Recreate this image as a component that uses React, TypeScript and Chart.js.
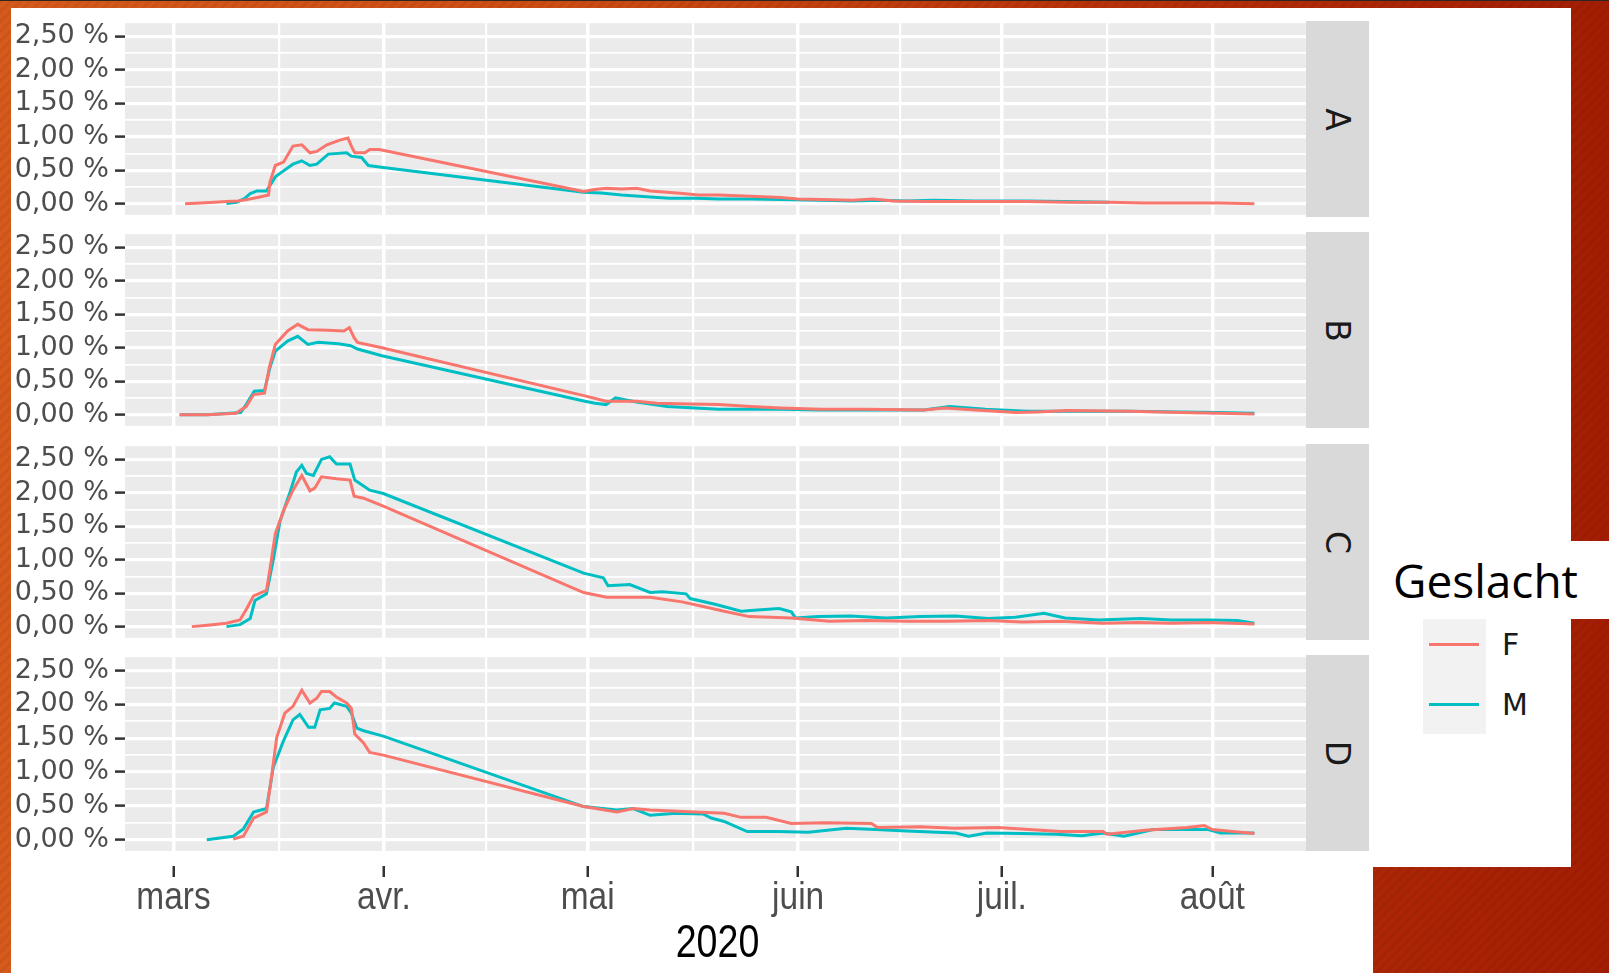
import React, { useEffect, useRef } from "react";
import { Chart, registerables } from "chart.js";

Chart.register(...registerables);

// ---------------- data ----------------
const facetLabels = ["A", "B", "C", "D"];
const seriesNames = ["F", "M"];
const seriesColors = ["#F8766D", "#00BFC4"];
// x values are days counted from 1 March 2020
const xMajorDays = [0, 31, 61, 92, 122, 153];
const xMajorLabels = ["mars", "avr.", "mai", "juin", "juil.", "août"];
const xMinorDays = [15.5, 46, 76.5, 107, 137.5];
const yMajorValues = [0, 0.5, 1, 1.5, 2, 2.5];
const yMinorValues = [0.25, 0.75, 1.25, 1.75, 2.25];
const xAxisTitle = "2020";
const legendTitle = "Geslacht";

const daysA_F = [1.7, 4, 6, 7.8, 9.5, 10.8, 12.7, 14, 14.2, 15, 16.2, 17.6, 18.9, 20.1, 21.1, 22.6, 24.5, 25.7, 26.2, 26.7, 28.2, 28.9, 30.3, 60.4, 62, 63.8, 66, 68.2, 70.2, 72.7, 75, 77.3, 80.3, 85, 89.4, 92, 95.4, 100, 103, 106, 110.5, 118, 125.7, 132, 137.8, 143, 148.3, 154, 159.2];
const valsA_F = [0, 0.01, 0.02, 0.03, 0.04, 0.06, 0.1, 0.13, 0.32, 0.57, 0.62, 0.86, 0.88, 0.76, 0.78, 0.88, 0.95, 0.98, 0.86, 0.76, 0.76, 0.81, 0.81, 0.18, 0.21, 0.23, 0.22, 0.23, 0.19, 0.17, 0.15, 0.13, 0.13, 0.11, 0.09, 0.07, 0.06, 0.05, 0.07, 0.04, 0.03, 0.03, 0.03, 0.02, 0.02, 0.01, 0.01, 0.01, 0];
const daysA_M = [7.8, 9.3, 10.5, 11.3, 12.3, 13.7, 15, 16.2, 17.6, 18.9, 20.1, 21.1, 22.8, 25.5, 26.2, 27.7, 28.7, 30.9, 60.4, 63, 66, 70.2, 73, 77, 80.3, 85, 89.4, 95.4, 100, 104, 108, 112, 118, 125.7, 131, 137.8];
const valsA_M = [0, 0.02, 0.08, 0.15, 0.19, 0.19, 0.4, 0.49, 0.59, 0.64, 0.57, 0.59, 0.74, 0.76, 0.71, 0.69, 0.57, 0.54, 0.17, 0.16, 0.13, 0.1, 0.08, 0.08, 0.07, 0.07, 0.06, 0.05, 0.04, 0.05, 0.04, 0.05, 0.04, 0.04, 0.03, 0.02];

const daysB_F = [0.9, 5, 9.2, 10.7, 11.8, 13.4, 14.1, 15, 16.8, 18.3, 19.8, 22.8, 25.1, 25.9, 26.6, 27.1, 30.7, 60.6, 63.7, 68.2, 71.2, 76, 80.3, 85, 89.4, 95.4, 102, 110.5, 113.6, 118.1, 124.1, 127.2, 131.7, 140.8, 148.3, 154, 159.2];
const valsB_F = [0, 0, 0.02, 0.12, 0.3, 0.32, 0.7, 1.05, 1.25, 1.35, 1.27, 1.26, 1.25, 1.3, 1.15, 1.08, 1.0, 0.28, 0.2, 0.2, 0.17, 0.16, 0.15, 0.12, 0.1, 0.08, 0.08, 0.07, 0.1, 0.07, 0.03, 0.04, 0.06, 0.05, 0.03, 0.02, 0.01];
const daysB_M = [0.9, 5, 9.9, 10.7, 11.9, 13.4, 14.2, 15, 16.8, 18.3, 19.8, 21.3, 24.3, 26.1, 27.1, 30.7, 60.6, 62.1, 63.7, 65.1, 68.2, 72.7, 80.3, 89.4, 95.4, 102, 110.5, 114.3, 119.6, 125.7, 131.7, 140.8, 148.3, 154, 159.2];
const valsB_M = [0, 0, 0.03, 0.15, 0.35, 0.36, 0.7, 0.95, 1.1, 1.17, 1.05, 1.08, 1.06, 1.03, 0.98, 0.88, 0.2, 0.17, 0.15, 0.25, 0.19, 0.12, 0.08, 0.08, 0.07, 0.07, 0.07, 0.12, 0.08, 0.05, 0.05, 0.05, 0.04, 0.03, 0.02];

const daysC_F = [2.7, 5, 7.8, 9.8, 10.8, 11.8, 13.7, 14.2, 15, 16.2, 17.6, 18.9, 20.1, 20.8, 21.8, 24, 26, 26.6, 28, 30.9, 60.4, 63.8, 67, 70.2, 74.9, 78, 81.1, 84.8, 88, 91, 96.6, 102, 108, 114, 120, 125, 130.7, 136.9, 142, 147, 152.4, 156, 159.2];
const valsC_F = [0, 0.02, 0.05, 0.1, 0.27, 0.46, 0.54, 0.85, 1.39, 1.73, 2.04, 2.26, 2.03, 2.07, 2.24, 2.21, 2.19, 1.95, 1.92, 1.8, 0.51, 0.44, 0.44, 0.44, 0.37, 0.3, 0.23, 0.15, 0.14, 0.13, 0.08, 0.09, 0.08, 0.08, 0.09, 0.07, 0.08, 0.05, 0.06, 0.05, 0.06, 0.05, 0.04];
const daysC_M = [7.8, 9.8, 11.3, 12, 13.7, 14.7, 15.7, 17.2, 18.1, 18.9, 19.6, 20.6, 21.8, 23, 24, 26, 26.7, 28.9, 30.9, 60.4, 63.3, 64, 67.2, 70.2, 72, 75.5, 76.1, 79.9, 83.6, 86, 89.2, 91, 91.6, 95, 99.7, 105, 110, 115.2, 120, 124, 128.2, 131.3, 136.3, 142.5, 147, 152.4, 156.7, 159.2];
const valsC_M = [0, 0.03, 0.12, 0.39, 0.49, 1.0, 1.58, 2.02, 2.31, 2.41, 2.29, 2.26, 2.5, 2.54, 2.43, 2.43, 2.19, 2.04, 1.99, 0.8, 0.73, 0.61, 0.63, 0.51, 0.52, 0.49, 0.42, 0.33, 0.23, 0.25, 0.27, 0.22, 0.13, 0.15, 0.16, 0.13, 0.15, 0.16, 0.12, 0.14, 0.2, 0.13, 0.1, 0.12, 0.1, 0.1, 0.09, 0.05];

const daysD_F = [8.8, 10.3, 11.8, 13.7, 14.5, 15.2, 16.4, 17.6, 18.9, 20.1, 21.1, 21.8, 23, 24, 25.5, 26.2, 26.7, 28, 28.9, 30.9, 60.4, 65.3, 67.7, 70.2, 76.8, 81.1, 83.6, 87.3, 91, 96, 102.8, 103.7, 110, 115, 121.4, 126, 130.7, 136.9, 137.5, 143.1, 149.3, 151.8, 153, 156, 159.2];
const valsD_F = [0.01, 0.05, 0.32, 0.41, 0.97, 1.51, 1.87, 1.97, 2.21, 2.02, 2.09, 2.19, 2.19, 2.11, 2.02, 1.94, 1.56, 1.43, 1.29, 1.25, 0.49, 0.41, 0.46, 0.44, 0.41, 0.39, 0.33, 0.33, 0.24, 0.25, 0.24, 0.18, 0.19, 0.17, 0.18, 0.15, 0.12, 0.12, 0.08, 0.14, 0.18, 0.21, 0.15, 0.12, 0.09];
const daysD_M = [4.9, 8.8, 10.3, 11.8, 13.7, 14.7, 16.2, 17.6, 18.6, 19.9, 20.8, 21.6, 23, 23.7, 25.5, 26.2, 27, 28, 30.9, 60.4, 65.3, 67.7, 70.2, 74, 78, 79.2, 81.1, 84.5, 89, 93.5, 99.1, 103.4, 108, 115.2, 117.1, 119.8, 125, 130, 133.8, 136.9, 140, 144.3, 152.4, 154.2, 159.2];
const valsD_M = [0, 0.05, 0.16, 0.41, 0.46, 1.07, 1.46, 1.77, 1.85, 1.66, 1.66, 1.92, 1.94, 2.02, 1.97, 1.87, 1.65, 1.61, 1.53, 0.49, 0.44, 0.46, 0.36, 0.39, 0.38, 0.32, 0.27, 0.12, 0.12, 0.11, 0.17, 0.15, 0.13, 0.1, 0.05, 0.1, 0.09, 0.08, 0.06, 0.1, 0.05, 0.15, 0.15, 0.1, 0.1];

const panelSeries: number[][][][] = [
  [[daysA_F, valsA_F], [daysA_M, valsA_M]],
  [[daysB_F, valsB_F], [daysB_M, valsB_M]],
  [[daysC_F, valsC_F], [daysC_M, valsC_M]],
  [[daysD_F, valsD_F], [daysD_M, valsD_M]],
];

// ---------------- layout ----------------
const PAGE_W = 1609;
const PAGE_H = 973;
const PLOT_LEFT = 125;
const PLOT_RIGHT = 1306;
const STRIP_RIGHT = 1369;
const PANEL_TOPS = [21, 232, 444, 655];
const PANEL_H = 196;
const PAD_V = 20;
const X_MIN = -7.14;
const X_MAX = 166.8;
const Y_MIN = -0.167;
const Y_MAX = 2.697;

const Y_FONT = "'DejaVu Sans', 'Liberation Sans', sans-serif";
const X_FONT = "'Liberation Sans', Arial, sans-serif";
const TEXT_GREY = "#4d4d4d";
const X_LABEL_SIZE = 38;
const X_LABEL_SQUEEZE = 0.88;
const X_LABEL_BASELINE = 43; // below top of axis box
const X_TITLE_SIZE = 47;
const X_TITLE_SQUEEZE = 0.8;
const X_TITLE_BASELINE = 91;

const isMajorX = (v: number) => xMajorDays.some((d) => Math.abs(d - v) < 1e-6);
const isMajorY = (v: number) => yMajorValues.some((d) => Math.abs(d - v) < 1e-6);
const fmtPct = (v: number) => v.toFixed(2).replace(".", ",") + " %";

const panelBackground = {
  id: "panelBackground",
  beforeDraw(chart: any) {
    const { ctx, chartArea } = chart;
    if (!chartArea) return;
    ctx.save();
    ctx.fillStyle = "#ebebeb";
    ctx.fillRect(chartArea.left, chartArea.top, chartArea.right - chartArea.left, chartArea.bottom - chartArea.top);
    ctx.restore();
  },
};

// draws the (horizontally condensed) x tick labels and axis title at the positions of the x scale
const bottomAxisText = {
  id: "bottomAxisText",
  afterDraw(chart: any) {
    const xs = chart.scales.x;
    const { ctx, chartArea } = chart;
    if (!xs || !chartArea) return;
    ctx.save();
    ctx.textAlign = "center";
    ctx.textBaseline = "alphabetic";
    ctx.fillStyle = TEXT_GREY;
    ctx.font = `${X_LABEL_SIZE}px ${X_FONT}`;
    xMajorDays.forEach((d, i) => {
      const px = xs.getPixelForValue(d);
      ctx.save();
      ctx.translate(px, xs.top + X_LABEL_BASELINE);
      ctx.scale(X_LABEL_SQUEEZE, 1);
      ctx.fillText(xMajorLabels[i], 0, 0);
      ctx.restore();
    });
    ctx.fillStyle = "#000000";
    ctx.font = `${X_TITLE_SIZE}px ${X_FONT}`;
    const cx = (chartArea.left + chartArea.right) / 2 + 2;
    ctx.translate(cx, xs.top + X_TITLE_BASELINE);
    ctx.scale(X_TITLE_SQUEEZE, 1);
    ctx.fillText(xAxisTitle, 0, 0);
    ctx.restore();
  },
};

function buildConfig(index: number) {
  const isBottom = index === 3;
  const datasets = seriesNames.map((name, s) => {
    const [days, vals] = panelSeries[index][s];
    return {
      label: name,
      data: days.map((d, i) => ({ x: d, y: vals[i] })),
      borderColor: seriesColors[s],
      backgroundColor: seriesColors[s],
      borderWidth: 3,
      pointRadius: 0,
      pointHoverRadius: 0,
      tension: 0,
      fill: false,
    };
  });

  const xTicks = [...xMajorDays, ...xMinorDays].sort((a, b) => a - b);
  const yTicks = [...yMajorValues, ...yMinorValues].sort((a, b) => a - b);

  const scales: any = {
    x: {
      type: "linear",
      position: "bottom",
      min: X_MIN,
      max: X_MAX,
      weight: 1,
      afterBuildTicks: (scale: any) => {
        scale.ticks = xTicks.map((v) => ({ value: v }));
      },
      ticks: {
        display: false,
        autoSkip: false,
        maxRotation: 0,
        minRotation: 0,
        callback: (v: any) => {
          const i = xMajorDays.findIndex((d) => Math.abs(d - Number(v)) < 1e-6);
          return i >= 0 ? xMajorLabels[i] : "";
        },
      },
      grid: {
        color: "#ffffff",
        lineWidth: (ctx: any) => (ctx.tick && isMajorX(ctx.tick.value) ? 3.5 : 2.2),
        drawTicks: isBottom,
        tickLength: 11,
        tickWidth: 2.5,
        tickColor: (ctx: any) => (ctx.tick && isMajorX(ctx.tick.value) ? "#333333" : "rgba(0,0,0,0)"),
      },
      border: { display: false },
      title: { display: false, text: xAxisTitle },
      afterFit: isBottom
        ? (scale: any) => {
            scale.height = 107;
          }
        : undefined,
    },
    y: {
      type: "linear",
      position: "left",
      min: Y_MIN,
      max: Y_MAX,
      afterBuildTicks: (scale: any) => {
        scale.ticks = yTicks.map((v) => ({ value: v }));
      },
      afterFit: (scale: any) => {
        scale.width = PLOT_LEFT;
      },
      ticks: {
        autoSkip: false,
        padding: 6,
        color: TEXT_GREY,
        font: { family: Y_FONT, size: 27, lineHeight: 1.2 },
        callback: (v: any) => (isMajorY(Number(v)) ? fmtPct(Number(v)) : ""),
      },
      grid: {
        color: "#ffffff",
        lineWidth: (ctx: any) => (ctx.tick && isMajorY(ctx.tick.value) ? 3.2 : 1.8),
        drawTicks: true,
        tickLength: 10,
        tickWidth: 2.5,
        tickColor: (ctx: any) => (ctx.tick && isMajorY(ctx.tick.value) ? "#333333" : "rgba(0,0,0,0)"),
      },
      border: { display: false },
    },
  };

  if (isBottom) {
    scales.xgap = {
      type: "linear",
      position: "bottom",
      min: X_MIN,
      max: X_MAX,
      weight: 0,
      ticks: { display: false },
      grid: { display: false, drawTicks: false },
      border: { display: false },
      afterFit: (scale: any) => {
        scale.height = 15;
      },
    };
  }

  return {
    type: "line",
    data: { datasets },
    options: {
      animation: false,
      responsive: true,
      maintainAspectRatio: false,
      events: [],
      layout: { padding: { top: PAD_V, bottom: isBottom ? 0 : PAD_V, left: 0, right: 0 } },
      plugins: {
        legend: { display: false },
        tooltip: { enabled: false },
        title: { display: false },
      },
      scales,
    },
    plugins: isBottom ? [panelBackground, bottomAxisText] : [panelBackground],
  };
}

function FacetChart({ index }: { index: number }) {
  const ref = useRef<HTMLCanvasElement>(null);
  useEffect(() => {
    if (!ref.current) return;
    const chart = new Chart(ref.current, buildConfig(index) as any);
    return () => chart.destroy();
  }, [index]);
  const isBottom = index === 3;
  const top = PANEL_TOPS[index] - PAD_V;
  const height = isBottom ? PAGE_H - top : PANEL_H + 2 * PAD_V;
  return (
    <div style={{ position: "absolute", left: 0, top, width: PLOT_RIGHT, height }}>
      <canvas ref={ref} />
    </div>
  );
}

function Strip({ index }: { index: number }) {
  return (
    <div
      style={{
        position: "absolute",
        left: PLOT_RIGHT,
        top: PANEL_TOPS[index],
        width: STRIP_RIGHT - PLOT_RIGHT,
        height: PANEL_H,
        background: "#d9d9d9",
        display: "flex",
        alignItems: "center",
        justifyContent: "center",
      }}
    >
      <div
        style={{
          transform: "rotate(90deg)",
          fontFamily: Y_FONT,
          fontSize: 33,
          lineHeight: "33px",
          color: "#1a1a1a",
        }}
      >
        {facetLabels[index]}
      </div>
    </div>
  );
}

function Legend() {
  const keyTops = [643, 703];
  const labelTops = [629.5, 689.5];
  return (
    <>
      <div
        style={{
          position: "absolute",
          left: 1393,
          top: 557,
          fontFamily: "'Open Sans', 'Noto Sans', sans-serif",
          fontSize: 46,
          lineHeight: "46px",
          color: "#000000",
          whiteSpace: "nowrap",
        }}
      >
        {legendTitle}
      </div>
      <div style={{ position: "absolute", left: 1423, top: 619, width: 63, height: 115, background: "#f2f2f2" }} />
      {seriesNames.map((name, s) => (
        <React.Fragment key={name}>
          <div
            style={{
              position: "absolute",
              left: 1429,
              top: keyTops[s],
              width: 50,
              height: 3,
              background: seriesColors[s],
            }}
          />
          <div
            style={{
              position: "absolute",
              left: 1502,
              top: labelTops[s],
              fontFamily: Y_FONT,
              fontSize: 30,
              lineHeight: "30px",
              color: "#1a1a1a",
            }}
          >
            {name}
          </div>
        </React.Fragment>
      ))}
    </>
  );
}

export default function App() {
  return (
    <div
      style={{
        position: "fixed",
        left: 0,
        top: 0,
        width: PAGE_W,
        height: PAGE_H,
        overflow: "hidden",
        background:
          "repeating-linear-gradient(135deg, rgba(0,0,0,0.05) 0px, rgba(0,0,0,0.05) 3px, rgba(255,255,255,0) 3px, rgba(255,255,255,0) 7px), linear-gradient(90deg, #d65a1c 0%, #cd4c13 35%, #b73108 70%, #a31d02 100%)",
      }}
    >
      <div style={{ position: "absolute", left: 0, top: 0, width: PAGE_W, height: 1, background: "#2e2620" }} />
      {/* white image areas */}
      <div style={{ position: "absolute", left: 11, top: 8, width: 1571 - 11, height: 867 - 8, background: "#ffffff" }} />
      <div style={{ position: "absolute", left: 11, top: 867, width: 1373 - 11, height: PAGE_H - 867, background: "#ffffff" }} />
      <div style={{ position: "absolute", left: 1571, top: 541, width: PAGE_W - 1571, height: 619 - 541, background: "#ffffff" }} />
      {facetLabels.map((_, i) => (
        <FacetChart key={"c" + i} index={i} />
      ))}
      {facetLabels.map((_, i) => (
        <Strip key={"s" + i} index={i} />
      ))}
      <Legend />
    </div>
  );
}
